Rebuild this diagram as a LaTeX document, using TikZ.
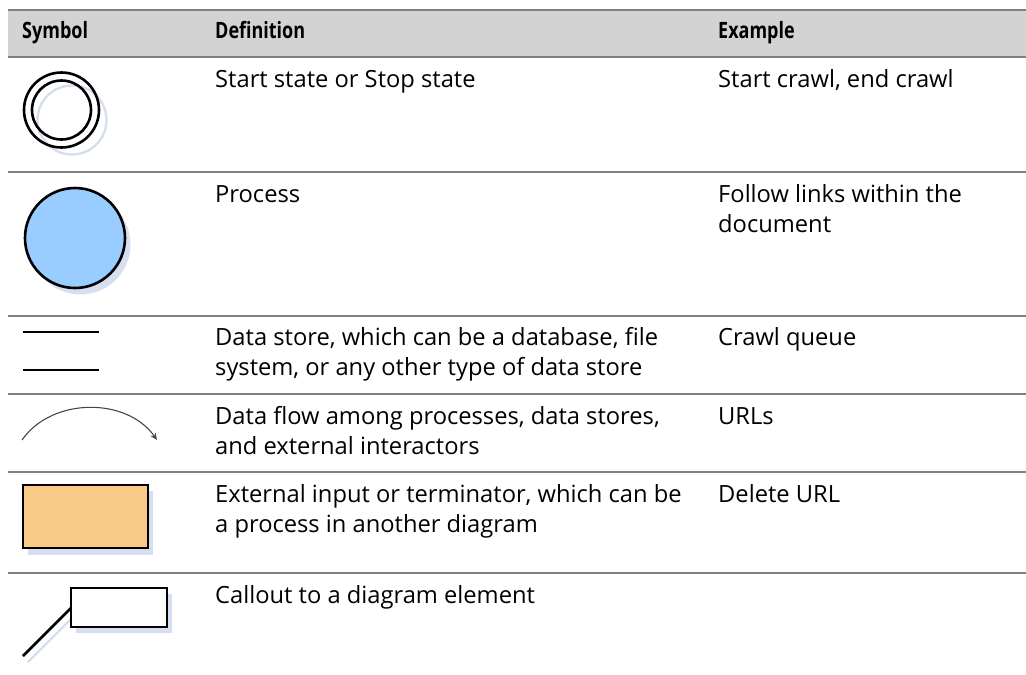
\documentclass[tikz,border=0pt]{standalone}
\usepackage{fontspec}
\setmainfont{Open Sans}
\usetikzlibrary{arrows.meta}
\definecolor{headfill}{RGB}{211,211,211}
\definecolor{rulegray}{RGB}{128,128,128}
\definecolor{shadowblue}{RGB}{214,223,239}
\definecolor{procblue}{RGB}{153,204,255}
\definecolor{extorange}{RGB}{249,202,133}
\definecolor{flowgray}{RGB}{70,70,70}
\begin{document}
\begin{tikzpicture}[x=1pt,y=-1pt,
  headtxt/.style={anchor=base west,inner sep=0pt,font=\fontsize{22.5}{28}\selectfont\bfseries},
  celltxt/.style={anchor=base west,inner sep=0pt,align=left,font=\fontsize{23.7}{30}\selectfont},
  rowrule/.style={draw=rulegray,line width=1.4pt},
  symline/.style={draw=black,line width=2.6pt},
  dropshadow/.style={fill=shadowblue,draw=none}]
\useasboundingbox (0,0) rectangle (1026,675);

% header band
\fill[headfill] (8,10) rectangle (1026,57);
\draw[rowrule] (8,10) -- (1026,10);
\node[headtxt] (hsym) at (22,38) {\scalebox{0.8}[1]{Symbol}};
\node[headtxt] (hdef) at (215,38) {\scalebox{0.8}[1]{Definition}};
\node[headtxt] (hex)  at (718,38) {\scalebox{0.8}[1]{Example}};

% row separators
\foreach \yy in {57,172,316,394,472,573}
  \draw[rowrule] (8,\yy) -- (1026,\yy);

% row 1: start / stop state (two-line cells are anchored on their last baseline)
\draw[shadowblue,line width=2.4pt] (72,120) circle (34.5);
\draw[symline] (61.5,110) circle (37.5);
\draw[symline] (61.5,110) circle (29.5);
\node[celltxt] (d1) at (215,87) {Start state or Stop state};
\node[celltxt] (e1) at (718,87) {Start crawl, end crawl};

% row 2: process
\fill[dropshadow] (80.5,244.5) circle (50);
\draw[symline,fill=procblue] (75,238) circle (50);
\node[celltxt] (d2) at (215,202) {Process};
\node[celltxt] (e2) at (718,232) {Follow links within the\\document};

% row 3: data store
\draw[symline] (23,332) -- (99,332);
\draw[symline] (23,370) -- (99,370);
\node[celltxt] (d3) at (215,375) {Data store, which can be a database, file\\system, or any other type of data store};
\node[celltxt] (e3) at (718,345) {Crawl queue};

% row 4: data flow
\coordinate (fa) at (22,440);
\coordinate (fb) at (157,440);
\draw[flowgray,line width=1.1pt,-{Stealth[length=7pt,width=6pt,fill=black]}]
  (fa) .. controls (52,397) and (127,397) .. (fb);
\node[celltxt] (d4) at (215,454) {Data flow among processes, data stores,\\and external interactors};
\node[celltxt] (e4) at (718,424) {URLs};

% row 5: external input / terminator
\fill[dropshadow] (28,491) rectangle (153,555);
\draw[symline,fill=extorange] (23,485) rectangle (148,548);
\node[celltxt] (d5) at (215,532) {External input or terminator, which can be\\a process in another diagram};
\node[celltxt] (e5) at (718,502) {Delete URL};

% row 6: callout
\draw[shadowblue,line width=2.4pt] (28,662) -- (76,614);
\fill[dropshadow] (76,594) rectangle (172,633);
\draw[symline] (23,656) -- (71,608);
\draw[symline,fill=white] (71,588) rectangle (167,627);
\node[celltxt] (d6) at (215,603) {Callout to a diagram element};
\end{tikzpicture}
\end{document}
